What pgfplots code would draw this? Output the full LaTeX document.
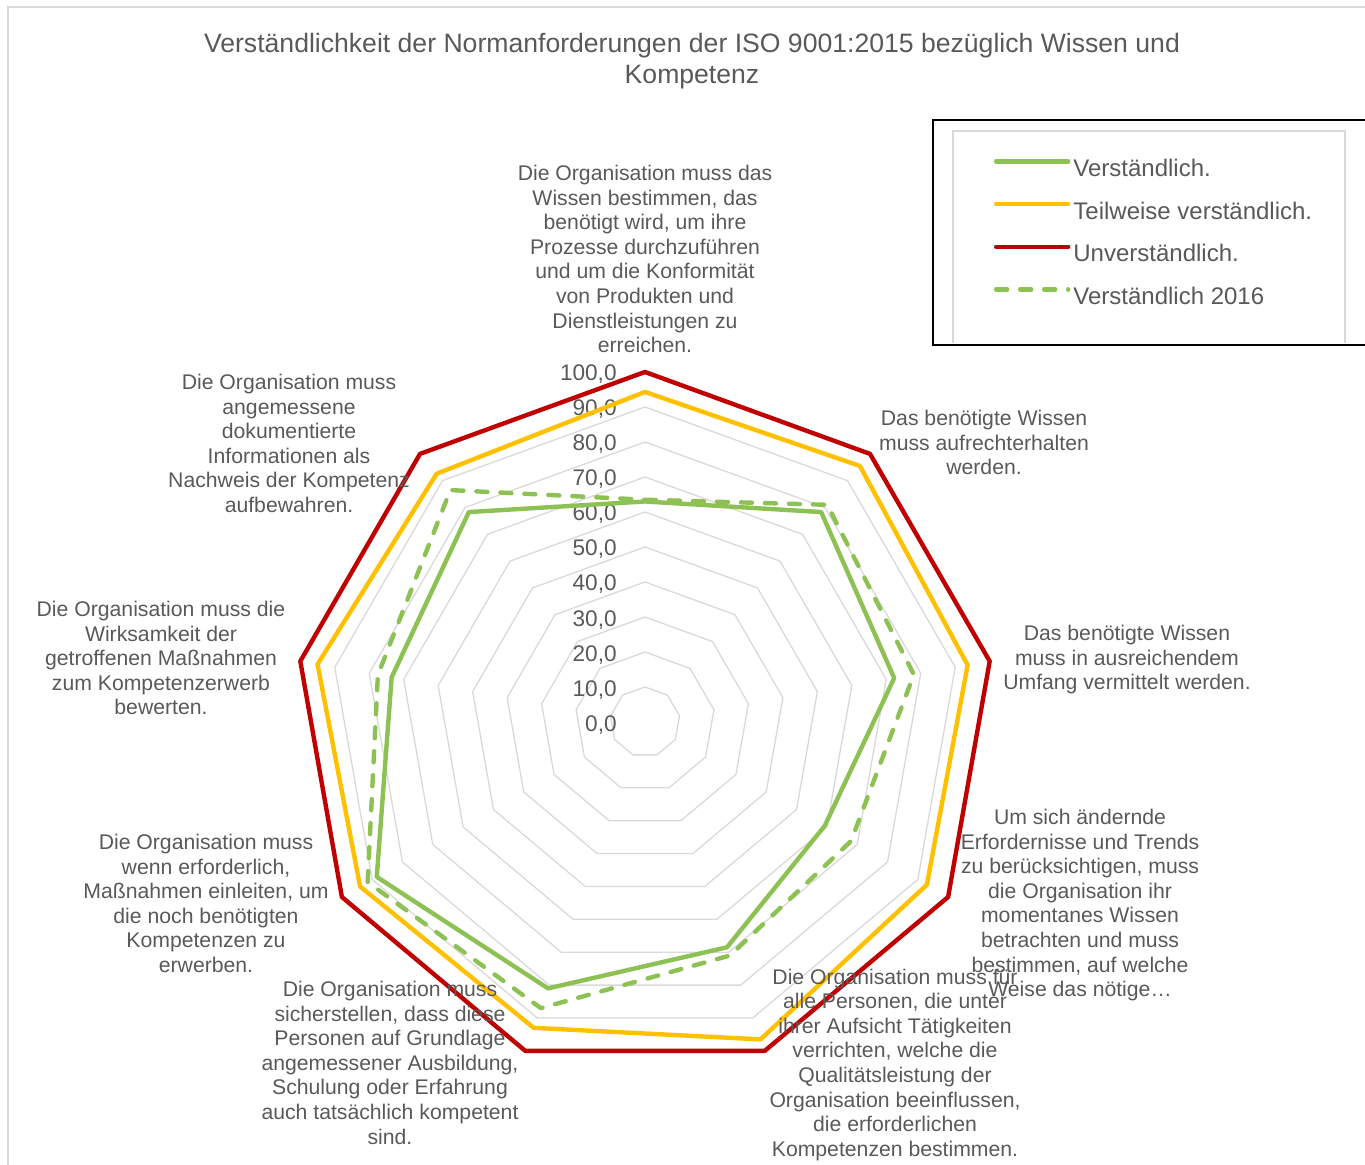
\documentclass[border=0pt]{standalone}
\usepackage{fontspec}
\setmainfont{Liberation Sans}
\usepackage{pgfplots}
\pgfplotsset{compat=1.18}
\definecolor{cgreen}{HTML}{8DC153}
\definecolor{cyellow}{HTML}{FFC000}
\definecolor{cred}{HTML}{C00000}
\definecolor{ctext}{HTML}{595959}
\definecolor{cgrid}{HTML}{D9D9D9}
\newcommand{\lblfont}{\fontsize{10.6}{12.3}\selectfont}
\newcommand{\tickfont}{\fontsize{11.3}{13}\selectfont}
\begin{document}
\begin{tikzpicture}
\begin{axis}[at={(0,0)}, anchor=south west, scale only axis,
  width=682.5pt, height=582.5pt,
  xmin=-184.2857, xmax=205.7143, ymin=-126.5714, ymax=206.2857,
  hide axis, clip=false,
  legend cell align=left,
  legend style={draw=none, fill=none, at={(0.7282,0.8639)}, anchor=north west,
    inner sep=0pt, outer sep=0pt, row sep=9.83pt, column sep=1.5pt,
    font=\fontsize{12}{14}\selectfont, text=ctext,
    nodes={inner sep=0pt, text height=9pt, text depth=2.5pt}},
  legend image code/.code={\draw[#1] (0pt,4.3pt) -- (36pt,4.3pt);},
]
% chart frame
\draw[cgrid, line width=0.75pt] (axis cs:-182,204.29) rectangle (axis cs:207.14,-128);
% legend frame
\fill[white] (axis cs:82.29,172) rectangle (axis cs:208.57,107.71);
\draw[cgrid, line width=0.75pt] (axis cs:88,108.29) -- (axis cs:88,168.86) -- (axis cs:200,168.86) -- (axis cs:200,108.29);
\draw[black, line width=1pt] (axis cs:82.29,172) rectangle (axis cs:208.57,107.71);
% title
\node[align=center, anchor=base, inner sep=0pt, text=ctext, font=\fontsize{13.3}{15.5}\selectfont]
  at (axis cs:13.43,182.40) {Verständlichkeit der Normanforderungen der ISO 9001:2015 bezüglich Wissen und\\Kompetenz};
% grid rings
\pgfplotsinvokeforeach{10,20,...,100}{
\addplot[cgrid, line width=0.65pt, line join=round, data cs=polar, forget plot] coordinates {(90,#1) (50,#1) (10,#1) (-30,#1) (-70,#1) (-110,#1) (-150,#1) (-190,#1) (-230,#1) (-270,#1)};
}
% tick labels
\node[anchor=base east, inner sep=0pt, text=ctext, font=\tickfont] at (axis cs:-8,-2.69) {0,0};
\node[anchor=base east, inner sep=0pt, text=ctext, font=\tickfont] at (axis cs:-8,7.34) {10,0};
\node[anchor=base east, inner sep=0pt, text=ctext, font=\tickfont] at (axis cs:-8,17.37) {20,0};
\node[anchor=base east, inner sep=0pt, text=ctext, font=\tickfont] at (axis cs:-8,27.40) {30,0};
\node[anchor=base east, inner sep=0pt, text=ctext, font=\tickfont] at (axis cs:-8,37.43) {40,0};
\node[anchor=base east, inner sep=0pt, text=ctext, font=\tickfont] at (axis cs:-8,47.46) {50,0};
\node[anchor=base east, inner sep=0pt, text=ctext, font=\tickfont] at (axis cs:-8,57.49) {60,0};
\node[anchor=base east, inner sep=0pt, text=ctext, font=\tickfont] at (axis cs:-8,67.52) {70,0};
\node[anchor=base east, inner sep=0pt, text=ctext, font=\tickfont] at (axis cs:-8,77.55) {80,0};
\node[anchor=base east, inner sep=0pt, text=ctext, font=\tickfont] at (axis cs:-8,87.58) {90,0};
\node[anchor=base east, inner sep=0pt, text=ctext, font=\tickfont] at (axis cs:-8,97.61) {100,0};
% data
\addplot[cgreen, line width=2.2pt, line join=round, line cap=round, data cs=polar] coordinates {(90,63) (50,78.3) (10,72.3) (-30,59.3) (-70,68.5) (-110,81) (-150,88.5) (-190,73.5) (-230,78.3) (-270,63)};
\addlegendentry{Verständlich.}
\addplot[cyellow, line width=2.2pt, line join=round, line cap=round, data cs=polar] coordinates {(90,94.3) (50,95.5) (10,93.6) (-30,93) (-70,96.5) (-110,93) (-150,94) (-190,95) (-230,92.6) (-270,94.3)};
\addlegendentry{Teilweise verständlich.}
\addplot[cred, line width=2.2pt, line join=round, line cap=round, data cs=polar] coordinates {(90,100) (50,100) (10,100) (-30,100) (-70,100) (-110,100) (-150,100) (-190,100) (-230,100) (-270,100)};
\addlegendentry{Unverständlich.}
\addplot[cgreen, line width=2.2pt, line join=round, line cap=round, dash pattern=on 5.5pt off 6.5pt, data cs=polar] coordinates {(90,63.5) (50,81) (10,78) (-30,68) (-70,71) (-110,87) (-150,91.5) (-190,77.5) (-230,86.5) (-270,63.5)};
\addlegendentry{Verständlich 2016}
% category labels (anchor base = baseline of last line)
\node[align=center, anchor=base, inner sep=0pt, text=ctext, font=\lblfont] at (axis cs:0,105.51) {Die Organisation muss das\\Wissen bestimmen, das\\benötigt wird, um ihre\\Prozesse durchzuführen\\und um die Konformität\\von Produkten und\\Dienstleistungen zu\\erreichen.};
\node[align=center, anchor=base, inner sep=0pt, text=ctext, font=\lblfont] at (axis cs:96.86,70.65) {Das benötigte Wissen\\muss aufrechterhalten\\werden.};
\node[align=center, anchor=base, inner sep=0pt, text=ctext, font=\lblfont] at (axis cs:137.71,9.23) {Das benötigte Wissen\\muss in ausreichendem\\Umfang vermittelt werden.};
\node[align=center, anchor=base, inner sep=0pt, text=ctext, font=\lblfont] at (axis cs:124.29,-78.49) {Um sich ändernde\\Erfordernisse und Trends\\zu berücksichtigen, muss\\die Organisation ihr\\momentanes Wissen\\betrachten und muss\\bestimmen, auf welche\\Weise das nötige…};
\node[align=center, anchor=base, inner sep=0pt, text=ctext, font=\lblfont] at (axis cs:71.43,-124.06) {Die Organisation muss für\\alle Personen, die unter\\ihrer Aufsicht Tätigkeiten\\verrichten, welche die\\Qualitätsleistung der\\Organisation beeinflussen,\\die erforderlichen\\Kompetenzen bestimmen.};
\node[align=center, anchor=base, inner sep=0pt, text=ctext, font=\lblfont] at (axis cs:-72.86,-120.60) {Die Organisation muss\\sicherstellen, dass diese\\Personen auf Grundlage\\angemessener Ausbildung,\\Schulung oder Erfahrung\\auch tatsächlich kompetent\\sind.};
\node[align=center, anchor=base, inner sep=0pt, text=ctext, font=\lblfont] at (axis cs:-125.43,-71.57) {Die Organisation muss\\wenn erforderlich,\\Maßnahmen einleiten, um\\die noch benötigten\\Kompetenzen zu\\erwerben.};
\node[align=center, anchor=base, inner sep=0pt, text=ctext, font=\lblfont] at (axis cs:-138.29,2.03) {Die Organisation muss die\\Wirksamkeit der\\getroffenen Maßnahmen\\zum Kompetenzerwerb\\bewerten.};
\node[align=center, anchor=base, inner sep=0pt, text=ctext, font=\lblfont] at (axis cs:-101.71,59.86) {Die Organisation muss\\angemessene\\dokumentierte\\Informationen als\\Nachweis der Kompetenz\\aufbewahren.};
\end{axis}
\pgfresetboundingbox
\useasboundingbox (0,0) rectangle (682.5pt,582.5pt);
\end{tikzpicture}
\end{document}
